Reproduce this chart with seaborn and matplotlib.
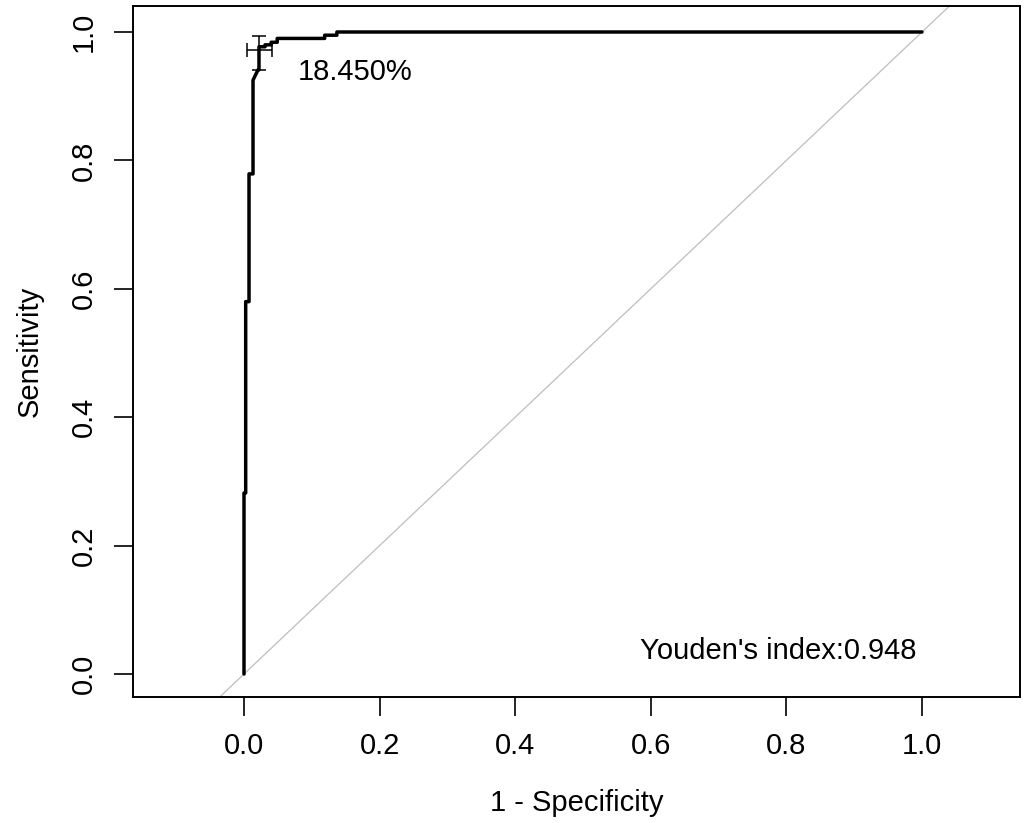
import matplotlib
matplotlib.use("Agg")
import matplotlib.pyplot as plt
import seaborn as sns
import pandas as pd

# ROC curve vertices (1 - specificity, sensitivity)
fpr = [0.0, 0.0, 0.0025, 0.0025, 0.0074, 0.0074, 0.0133, 0.0133, 0.0206, 0.0221,
       0.0221, 0.031, 0.031, 0.040, 0.040, 0.049, 0.049, 0.119, 0.119, 0.137, 0.137, 1.0]
tpr = [0.0, 0.282, 0.282, 0.580, 0.580, 0.779, 0.779, 0.925, 0.941, 0.941,
       0.977, 0.977, 0.980, 0.980, 0.984, 0.984, 0.990, 0.990, 0.995, 0.995, 1.0, 1.0]

# best threshold point with confidence intervals
thr_fpr = 0.0226
thr_tpr = 0.972
thr_fpr_ci = [0.004, 0.041]
thr_tpr_ci = [0.941, 0.994]
thr_label = "18.450%"
youden_label = "Youden's index:0.948"

x_ticks = [0.0, 0.2, 0.4, 0.6, 0.8, 1.0]
y_ticks = [0.0, 0.2, 0.4, 0.6, 0.8, 1.0]

sns.set_theme(style="ticks")
plt.rcParams['font.family'] = ['Liberation Sans', 'DejaVu Sans']

FS = 21

fig = plt.figure(figsize=(10.26, 8.23), dpi=100)
ax = fig.add_axes([133/1026, 1 - 697/823, (1020-133)/1026, (697-6)/823])

df = pd.DataFrame({"fpr": fpr, "tpr": tpr})
ax.axline((0, 0), slope=1, color="#BEBEBE", lw=0.9, zorder=1)
sns.lineplot(data=df, x="fpr", y="tpr", sort=False, estimator=None,
             color="black", lw=2.5, ax=ax, zorder=3)

ax.errorbar([thr_fpr], [thr_tpr],
            xerr=[[thr_fpr - thr_fpr_ci[0]], [thr_fpr_ci[1] - thr_fpr]],
            yerr=[[thr_tpr - thr_tpr_ci[0]], [thr_tpr_ci[1] - thr_tpr]],
            fmt="none", ecolor="black", elinewidth=1.1, capsize=5.0, capthick=1.1, zorder=4)

ax.text(0.164, 0.937, thr_label, ha="center", va="center", fontsize=FS, color="black")
ax.text(0.788, 0.036, youden_label, ha="center", va="center", fontsize=FS, color="black")

ax.set_xlim((133-244)/678, (1020-244)/678)
ax.set_ylim((674-697)/642, (674-6)/642)
ax.set_xticks(x_ticks)
ax.set_yticks(y_ticks)
ax.set_xticklabels([f"{v:.1f}" for v in x_ticks])
ax.set_yticklabels([f"{v:.1f}" for v in y_ticks])
ax.tick_params(axis="both", direction="out", length=13.5, width=1.2, pad=12,
               labelsize=FS, colors="black")
ax.tick_params(axis="y", labelrotation=90)
for lab in ax.get_yticklabels():
    lab.set_va("center")

for s in ax.spines.values():
    s.set_visible(True)
    s.set_color("black")
    s.set_linewidth(1.4)

ax.set_xlabel("1 - Specificity", fontsize=FS, color="black")
ax.set_ylabel("Sensitivity", fontsize=FS, color="black")
ax.xaxis.set_label_coords(0.5, -(789-697)/691)
ax.yaxis.set_label_coords(-(133-44)/887, 0.5)

fig.savefig("out.png", dpi=100, facecolor="white")
